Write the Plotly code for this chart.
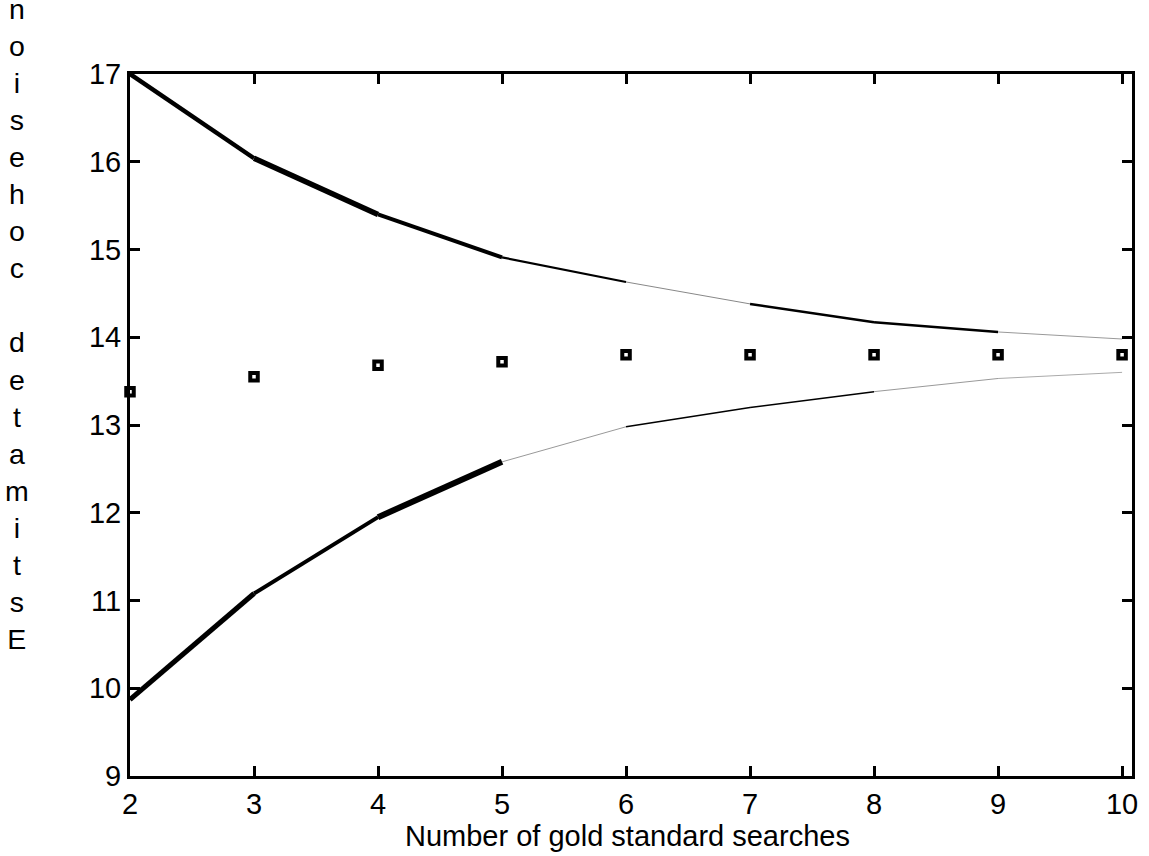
import plotly.graph_objects as go

searches = [2, 3, 4, 5, 6, 7, 8, 9, 10]
estimate = [13.38, 13.55, 13.68, 13.72, 13.80, 13.80, 13.80, 13.80, 13.80]
upper = [17.0, 16.04, 15.40, 14.91, 14.63, 14.38, 14.17, 14.06, 13.98]
lower = [9.87, 11.08, 11.95, 12.58, 12.98, 13.20, 13.38, 13.53, 13.60]

# per-segment rendering style (width, colour) to mimic the varying band thickness
upper_style = [(4.5, "black"), (5.5, "black"), (4, "black"), (2.2, "black"),
               (1, "#888"), (2.5, "black"), (2.5, "black"), (1, "#999")]
lower_style = [(5, "black"), (4, "black"), (6, "black"), (1, "#999"),
               (1.5, "black"), (1.5, "black"), (1, "#999"), (1, "#aaa")]

fig = go.Figure()
for series, styles in ((upper, upper_style), (lower, lower_style)):
    for i, (w, c) in enumerate(styles):
        fig.add_trace(go.Scatter(
            x=searches[i:i + 2], y=series[i:i + 2], mode="lines",
            line=dict(color=c, width=w), showlegend=False, hoverinfo="skip"))

fig.add_trace(go.Scatter(
    x=searches, y=estimate, mode="markers", cliponaxis=False,
    marker=dict(symbol="square", size=7.5, color="white",
                line=dict(color="black", width=4)),
    showlegend=False))

font = dict(family="Liberation Sans, Arial, sans-serif", size=29, color="black")
title_font = dict(family="Liberation Sans, Arial, sans-serif", size=28.5, color="black")
axis_common = dict(showgrid=False, zeroline=False, showline=True, linecolor="black",
                   linewidth=3, mirror="ticks", ticks="inside", ticklen=10,
                   tickwidth=2.5, tickcolor="black", tickfont=font)

fig.update_xaxes(range=[2, 10.08], tickvals=searches, ticktext=[str(v) for v in searches],
                 **axis_common)
fig.update_yaxes(range=[9, 17], tickvals=list(range(9, 18)), **axis_common)

title_letters = list("Estimated cohesion"[::-1])
title_text = "<br>".join(ch if ch != " " else "\u00a0" for ch in title_letters)

fig.update_layout(
    width=1149, height=856,
    margin=dict(l=130, r=11, t=74, b=80),
    paper_bgcolor="white", plot_bgcolor="white",
    font=font,
    annotations=[
        dict(text=title_text, xref="paper", yref="paper", x=-0.113, y=0.644,
             xanchor="center", yanchor="middle", showarrow=False, align="center",
             font=title_font),
        dict(text="Number of gold standard searches", xref="paper", yref="paper",
             x=0.497, y=-0.0855, xanchor="center", yanchor="middle", showarrow=False,
             font=font),
    ],
)

fig.write_html("out.html", config={"displayModeBar": False},
               post_script="document.body.style.margin='0';")
